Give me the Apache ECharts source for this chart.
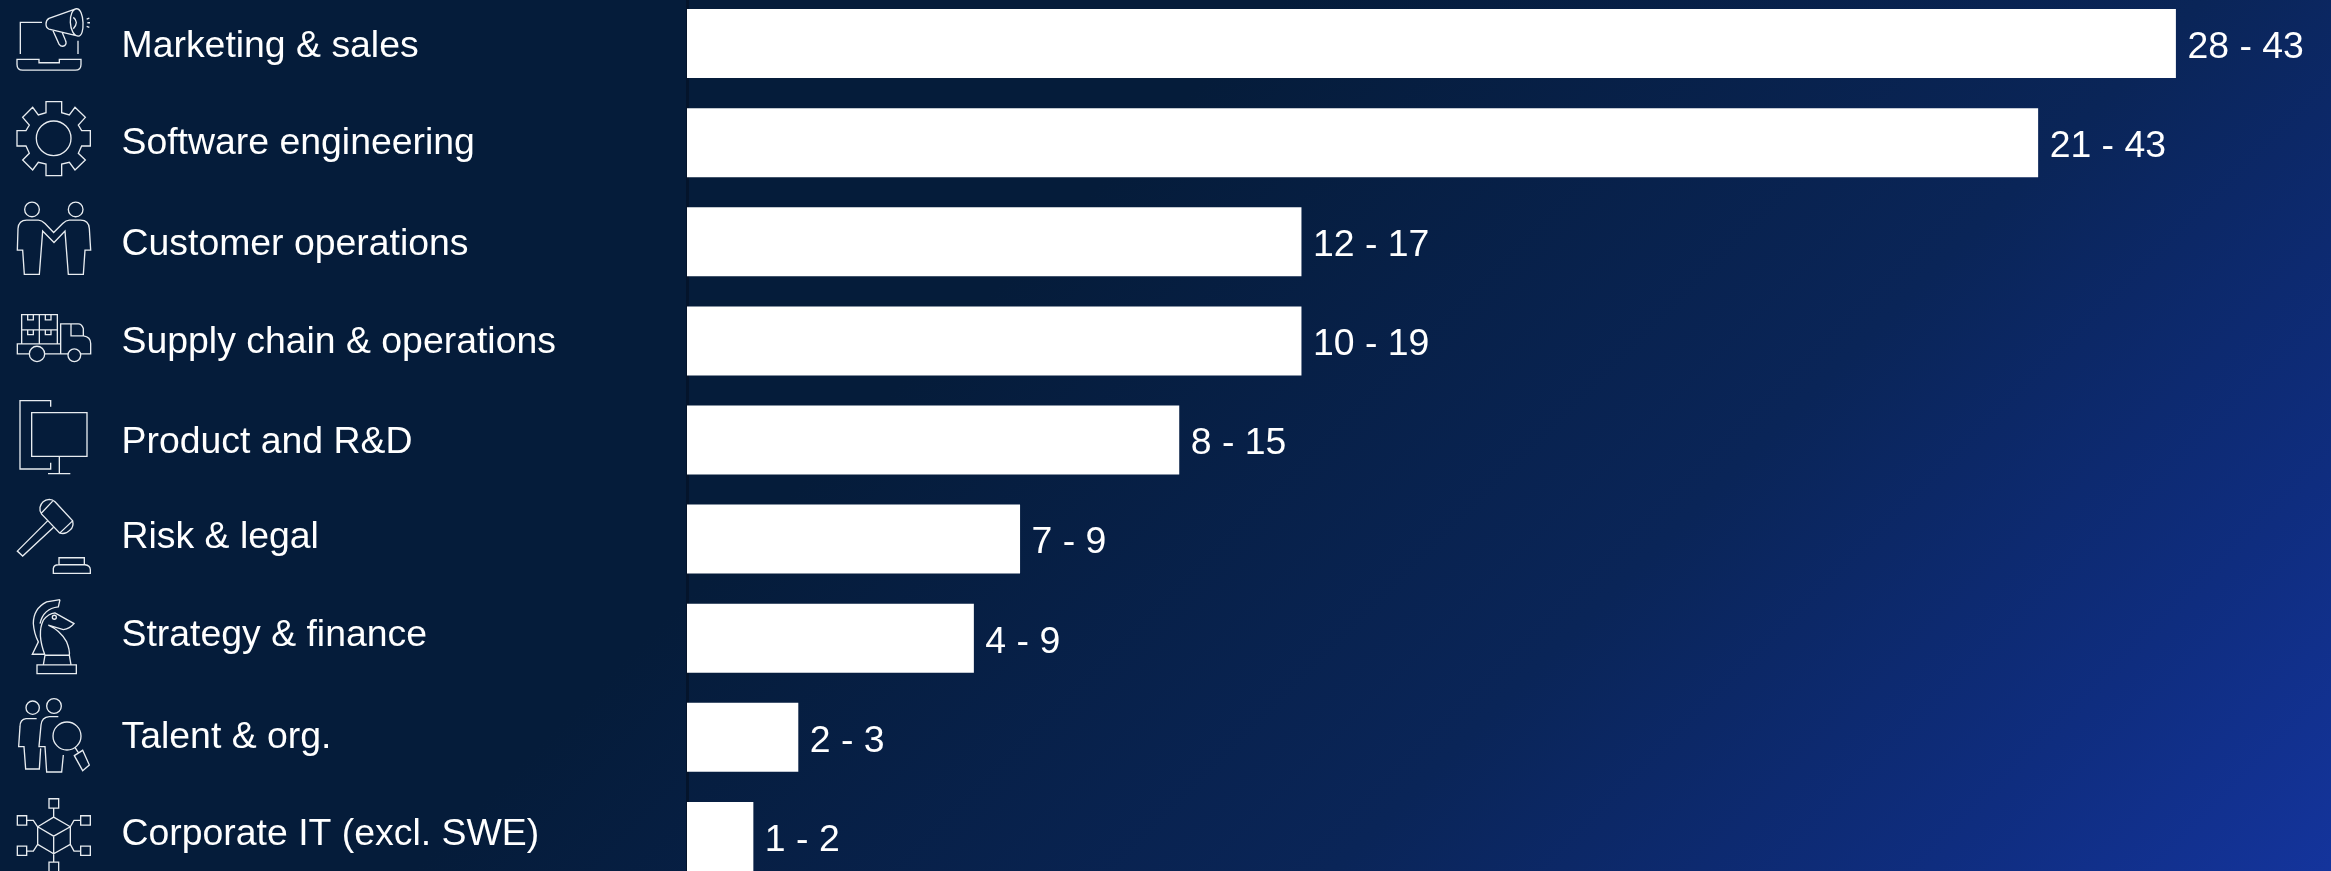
<!DOCTYPE html>
<html>
<head>
<meta charset="utf-8">
<style>
  html, body { margin: 0; padding: 0; background: #051c3a; }
  #chart { width: 2331px; height: 871px; }
</style>
<script src="https://cdn.jsdelivr.net/npm/echarts@6/dist/echarts.min.js"></script>
</head>
<body>
<div id="chart"></div>
<script>
// Functions ranked by estimated value, with the published low-high range per bar.
const categories = [
  'Marketing & sales', 'Software engineering', 'Customer operations',
  'Supply chain & operations', 'Product and R&D', 'Risk & legal',
  'Strategy & finance', 'Talent & org.', 'Corporate IT (excl. SWE)'
];
const rangeLow  = [28, 21, 12, 10, 8, 7, 4, 2, 1];
const rangeHigh = [43, 43, 17, 19, 15, 9, 9, 3, 2];
const barValues = [35.45, 32.17, 14.63, 14.63, 11.72, 7.93, 6.83, 2.65, 1.58];

// Vertical nudge per row for the category captions, in pixels; positive moves a caption up.
const captionLift = [-3, -1.5, -3, -1.5, -3, 1.5, 3, 0, 1.5];

const circle = (cx, cy, r) =>
  `M${cx - r} ${cy}A${r} ${r} 0 1 0 ${cx + r} ${cy}A${r} ${r} 0 1 0 ${cx - r} ${cy}Z`;
const box = (x0, y0, x1, y1) => `M${x0} ${y0}H${x1}V${y1}H${x0}Z`;

// Line icons, authored at three times their drawn size; pivot is the row centre in icon space.
const icons = [
  { pivot: 130.5, d:
    'M96 67H31V162M204 122V162' +
    'M21 178H87V188H148V178H213V193Q213 210 196 210H38Q21 210 21 193Z' +
    'M195 27L117 55Q108 60 108 72Q108 84 117 87L205 108' +
    'M200 26C188 26 180 45 181 67C182 90 192 108 205 108C216 108 220 88 219 67C218 45 211 26 200 26Z' +
    'M190 52Q208 66 190 86' +
    'M128 90L147 132Q155 143 165 136Q171 130 166 120L156 96' +
    'M230 57L238 54M232 68H240M230 79L238 82' },
  { pivot: 428, d:
    'M108 305H155V338L178 345L195 322L226 352L205 375L215 392H241V438H215L205 460L226 480L195 510L178 487' +
    'L155 492V527H108V492L85 487L68 510L38 480L58 460L48 438H21V392H48L58 375L38 352L68 322L85 345L108 338Z' +
    circle(131, 415, 52) },
  { pivot: 140, d:
    circle(66, 43, 22) + circle(197, 43, 22) +
    'M43 238H88L98 108L132 142L165 108L175 238H220L225 165H242L238 100Q236 75 212 75H178Q168 75 158 85' +
    'L131 112L105 85Q95 75 85 75H50Q26 75 24 100L22 165H38Z' },
  { pivot: 437, d:
    box(35, 358, 142, 446) + 'M88 358V446M35 404H142' +
    'M53 358V374H70V358M106 358V374H123V358M53 404V418H70V404M106 404V418H123V404' +
    'M58 476H22V446H152V476H104M152 446V386H205Q215 386 220 400V422Q242 425 242 445V476H213M174 476H152' +
    'M183 386V422H220' + circle(81, 476, 23) + circle(193, 480, 19) },
  { pivot: 150, d:
    'M122 50V32H30V237H122V218' + box(65, 68, 231, 199) + 'M148 199V251M114 251H181' },
  { pivot: 447, d:
    'M90 352Q95 330 118 328Q128 328 135 335L188 392Q192 410 180 420Q165 435 148 428L95 372Q88 362 90 352Z' +
    'M128 333L93 370M187 393L149 429' +
    'M112 393L22 483L38 498L130 412' +
    'M147 524V503H223V524M130 550V535Q132 524 145 524H225Q240 526 241 538V550Z' },
  { pivot: 144, d:
    box(81, 224, 199, 250) + 'M100 224L105 195H178L183 224' +
    'M150 28L110 35Q70 55 70 100Q72 130 85 155L67 192H105' +
    'M105 195Q80 130 100 90Q115 70 135 68L192 100Q180 115 160 118L115 105Q150 120 170 155Q180 180 178 195' +
    'M150 28L145 50Q100 55 90 100' + circle(133, 81, 6) },
  { pivot: 442, d:
    circle(68, 353, 20) + circle(132, 348, 22) +
    'M80 386H48Q30 388 30 410L26 470H42L47 537H88L92 475' +
    'M145 380H118Q95 382 93 405L87 470H105L110 546H155L160 495' +
    circle(171, 438, 42) + 'M193 497L218 481L238 525L218 542ZM195 472L205 488' },
  { pivot: 166, d:
    'M131 108L181 137V190L131 218L83 190V137Z' +
    'M83 137L131 165L181 137M131 165V218' +
    box(117, 53, 146, 81) + 'M131 81V108' +
    box(212, 104, 241, 132) + 'M181 137L192 118H212' +
    box(22, 104, 50, 132) + 'M83 137L70 118H50' +
    box(22, 195, 50, 223) + 'M83 190L70 210H50' +
    box(212, 195, 241, 223) + 'M181 190L192 210H212' +
    'M131 218V243' + box(117, 243, 146, 285) }
];

const FONT = '"Liberation Sans", Arial, sans-serif';
const TEXT_SIZE = 37.4;

const captionStyles = {};
captionLift.forEach((lift, i) => {
  captionStyles['row' + i] = {
    color: '#ffffff', fontFamily: FONT, fontSize: TEXT_SIZE,
    padding: [Math.max(-lift * 2, 0), 0, Math.max(lift * 2, 0), 0]
  };
});

const chart = echarts.init(document.getElementById('chart'), null, { renderer: 'canvas' });

chart.setOption({
  animation: false,
  // Diagonal wash: flat navy on the left, brightening towards the lower right corner.
  backgroundColor: new echarts.graphic.LinearGradient(641, 641, 1601, 1601, [
    { offset: 0, color: '#051c3a' },
    { offset: 0.48, color: '#0a2558' },
    { offset: 0.79, color: '#0f2d7f' },
    { offset: 1, color: '#14349c' }
  ], true),
  grid: { left: 687, right: 6, top: -6, height: 892, outerBoundsMode: 'none' },
  xAxis: { type: 'value', min: 0, max: 39, show: false },
  yAxis: {
    type: 'category',
    inverse: true,
    data: categories,
    axisTick: { show: false },
    axisLine: { show: true, lineStyle: { color: '#04142b', width: 3 } },
    axisLabel: {
      align: 'left',
      margin: 565.5,
      formatter: (name, i) => `{row${i}|${name}}`,
      rich: captionStyles
    }
  },
  series: [
    {
      type: 'bar',
      data: barValues,
      barWidth: 69,
      itemStyle: { color: '#ffffff' },
      label: {
        show: true,
        position: 'right',
        distance: 11.5,
        offset: [0, 4],
        color: '#ffffff',
        fontFamily: FONT,
        fontSize: TEXT_SIZE,
        formatter: p => `${rangeLow[p.dataIndex]} - ${rangeHigh[p.dataIndex]}`
      }
    },
    {
      type: 'custom',
      clip: false,
      silent: true,
      data: categories.map((_, i) => [0, i]),
      encode: { x: 0, y: 1 },
      renderItem: (params, api) => {
        const icon = icons[params.dataIndex];
        const centre = api.coord([0, api.value(1)]);
        return {
          type: 'path',
          x: 10,
          y: centre[1] - icon.pivot / 3,
          scaleX: 1 / 3,
          scaleY: 1 / 3,
          shape: { pathData: icon.d },
          style: { fill: 'none', stroke: '#e8ecf0', lineWidth: 4 }
        };
      }
    }
  ]
});
</script>
</body>
</html>
